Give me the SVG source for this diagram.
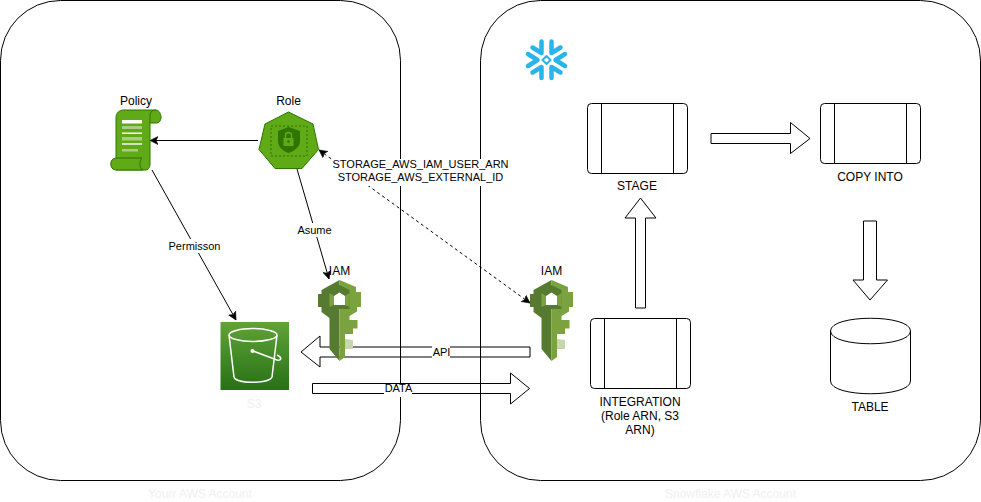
<svg xmlns="http://www.w3.org/2000/svg" width="981" height="502" viewBox="0 0 981 502">
<style>
text{font-family:"Liberation Sans",Arial,sans-serif;font-size:12px;fill:#000;text-anchor:middle}
text.c{font-size:11px}
text.ghost{fill:#f0f0f0}
.box{fill:#fff;stroke:#000;stroke-width:1}
.frame{fill:none;stroke:#000;stroke-width:1}
.line{fill:none;stroke:#000;stroke-width:1}
.big{fill:#fff;stroke:#000;stroke-width:1;stroke-linejoin:miter}
.g{fill:#60a917;stroke:#2d7600;stroke-width:1}
.lbl{fill:#fff}
</style>
<defs>
<marker id="ah" markerWidth="10" markerHeight="10" refX="8" refY="4" orient="auto-start-reverse" markerUnits="userSpaceOnUse" viewBox="0 0 10 8">
<path d="M0 0L8 4L0 8L2 4Z" fill="#000" stroke="#000" stroke-width="0.6"/>
</marker>
<linearGradient id="s3g" x1="0" y1="0" x2="0" y2="1"><stop offset="0" stop-color="#60a337"/><stop offset="1" stop-color="#277116"/></linearGradient>
<g id="key">
<path d="M21.500 0L3.500 10V14H0V27H3.500V32L11.500 38V69L21.500 81Z" fill="#567a30"/>
<path d="M21.500 0L38 7V12H43V27H39V31.500L31.500 36V40H39.500V48.500H35V54H27V60H35V68.500H27V77L21.500 81Z" fill="#7aa33f"/>
<path d="M21.500 5L11.500 10V27L21.500 29H31.500V10Z" fill="#567a30"/>
<path d="M11.500 13L16 16V25L11.500 27Z" fill="#7aa33f"/>
<path d="M27 16L31.500 13V27L27 25Z" fill="#7aa33f"/>
<path d="M16 16L21.500 12.500L27 16V25H16Z" fill="#fff"/>
<path d="M27 59V68.500H35V60Z" fill="#c6d8ab"/>
</g>
</defs>
<rect width="981" height="502" fill="#fff"/>

<g id="connectors">
<path class="line" d="M258 140.500H150" marker-end="url(#ah)"/>
<path class="line" d="M297 169L329 279" marker-end="url(#ah)"/>
<path class="line" d="M152 170L236 320" marker-end="url(#ah)"/>
<path class="line" stroke-dasharray="3 3" d="M319 150L530 303" marker-start="url(#ah)" marker-end="url(#ah)"/>
<path class="big" d="M530 347V357H320V367L301 352L320 336V347Z"/>
<path class="big" d="M312.500 383.500H510.500V373L529.500 388.500L510.500 404V393.500H312.500Z"/>
<path class="big" d="M711 133.500H790.500V122.500L810 138.500L790.500 153.500V143.500H711Z"/>
<path class="big" d="M635.500 308V218H625L640.500 198L656 218H645.500V308Z"/>
<path class="big" d="M863.500 221H876.500V280H887.500L870 300L853 280H863.500Z"/>
</g>

<g id="containers">
<g id="aws-account">
<rect class="frame" x="0.500" y="0.500" width="400" height="480" rx="60" ry="60"/>
<text class="ghost" x="200" y="498">Yourr AWS Account</text>
</g>
<g id="snowflake-account">
<rect class="frame" x="480.500" y="0.500" width="500" height="480" rx="60" ry="60"/>
<text class="ghost" x="730.500" y="498">Snowflake AWS Account</text>
</g>
</g>

<g id="connector-labels">
<rect class="lbl" x="297" y="223" width="35" height="14"/>
<text class="c" x="314.500" y="234">Asume</text>
<rect class="lbl" x="168" y="239" width="54" height="14"/>
<text class="c" x="194.500" y="250">Permisson</text>
<rect class="lbl" x="332" y="159" width="177" height="27"/>
<text class="c" x="420.500" y="168">STORAGE_AWS_IAM_USER_ARN</text>
<text class="c" x="420.500" y="181">STORAGE_AWS_EXTERNAL_ID</text>
<rect class="lbl" x="432" y="345" width="18" height="14"/>
<text class="c" x="441.500" y="356">API</text>
<rect class="lbl" x="384" y="384" width="28" height="13"/>
<text class="c" x="398.500" y="392">DATA</text>
</g>

<g id="policy">
<text x="136" y="105">Policy</text>
<path class="g" d="M124 110H156L150 122V164C150 168 148 170 145 170H116L116 158V118C116 113 119 110 124 110Z"/>
<path class="g" d="M150 122V115C150 112 153 110 156 110C159 110 161 114 161 117C161 121 159 123 156 123H150Z"/>
<path class="g" d="M116 158H142C139 161 139 168 143 170H116C109 170 109 158 116 158Z"/>
<rect x="122" y="120" width="20" height="3.500" fill="#fff"/>
<rect x="122" y="126" width="20" height="3" fill="#a8cc85"/>
<rect x="122" y="132.500" width="20" height="1.500" fill="#fff"/>
<rect x="122" y="137" width="20" height="3.500" fill="#a8cc85"/>
<rect x="122" y="143" width="20" height="2" fill="#cfe3b8"/>
<rect x="122" y="149" width="16" height="2.500" fill="#a8cc85"/>
</g>

<g id="role">
<text x="288.500" y="105">Role</text>
<path class="g" d="M288.500 112L313 124L318.500 149.500L302 168.500H275L259 149.500L265 124Z"/>
<rect x="271" y="126" width="36" height="30" fill="none" stroke="#2d7600" stroke-width="1" stroke-dasharray="2 2"/>
<path d="M288.500 127L300 131V141C300 147 294 151 288.500 153C283 151 278 147 278 141V131Z" fill="#2d7600"/>
<rect x="283.500" y="138" width="10" height="8" fill="#60a917"/>
<path d="M285.500 138V135.500C285.500 131.500 291.500 131.500 291.500 135.500V138" fill="none" stroke="#60a917" stroke-width="1.500"/>
<circle cx="288.500" cy="141.500" r="1.300" fill="#2d7600"/>
</g>

<g id="s3">
<rect x="220.500" y="322" width="68.500" height="68" fill="url(#s3g)"/>
<path d="M229 335L234 377C236 384 269 384 272 377L277 335" fill="none" stroke="#fff" stroke-width="1.500"/>
<ellipse cx="253" cy="335" rx="24" ry="6.500" fill="none" stroke="#fff" stroke-width="1.500"/>
<path d="M253 351L277 360C282 361 282 357 277 355" fill="none" stroke="#fff" stroke-width="1.500"/>
<circle cx="252.500" cy="351" r="2" fill="#fff"/>
<text class="ghost" x="254" y="408">S3</text>
</g>

<g id="iam-left">
<text x="339.500" y="275">IAM</text>
<use href="#key" x="318" y="280"/>
</g>

<g id="iam-right">
<text x="551.500" y="275">IAM</text>
<use href="#key" x="530" y="280"/>
</g>

<g id="snowflake-logo" fill="none" stroke="#29b5e8" stroke-width="4.500" stroke-linecap="round" stroke-linejoin="round">
<path d="M541.500 41.500V53L532.500 47.500"/>
<path d="M551.500 41.500V53L560.500 47.500"/>
<path d="M541.500 78V67L532.500 72.500"/>
<path d="M551.500 78V67L560.500 72.500"/>
<path d="M528 54L537.500 60L528 66"/>
<path d="M565 54L555.500 60L565 66"/>
<path d="M546.500 56L550.500 60L546.500 64L542.500 60Z" stroke-width="2"/>
</g>

<g id="stage">
<rect class="box" x="587.500" y="103.500" width="100" height="70" rx="4" ry="4"/>
<path class="line" d="M601.500 103.500V173.500M673.500 103.500V173.500"/>
<text x="637" y="190">STAGE</text>
</g>

<g id="copy-into">
<rect class="box" x="820.500" y="103.500" width="100" height="60" rx="4" ry="4"/>
<path class="line" d="M834.500 103.500V163.500M906.500 103.500V163.500"/>
<text x="870" y="181">COPY INTO</text>
</g>

<g id="integration">
<rect class="box" x="590.500" y="318.500" width="100" height="70" rx="4" ry="4"/>
<path class="line" d="M604.500 318.500V388.500M676.500 318.500V388.500"/>
<text x="640" y="406">INTEGRATION</text>
<text x="640" y="420">(Role ARN, S3</text>
<text x="640" y="434">ARN)</text>
</g>

<g id="table">
<path class="box" d="M830.500 331C830.500 314 910.500 314 910.500 331V381C910.500 398 830.500 398 830.500 381Z" stroke-width="1.300"/>
<path class="line" d="M830.500 331C830.500 348 910.500 348 910.500 331" stroke-width="1.300"/>
<text x="870" y="411">TABLE</text>
</g>
</svg>
